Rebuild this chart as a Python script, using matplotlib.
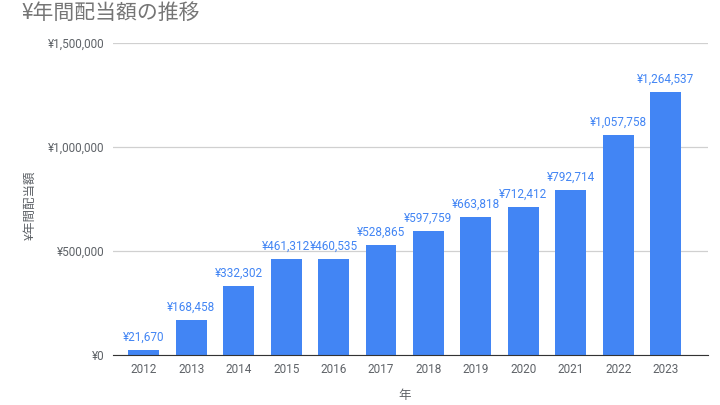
import matplotlib
matplotlib.use('Agg')
import matplotlib.pyplot as plt
from matplotlib.ticker import FuncFormatter

plt.rcParams['font.family'] = ['Noto Sans CJK JP', 'DejaVu Sans']

# データ
years = ['2012', '2013', '2014', '2015', '2016', '2017', '2018', '2019', '2020', '2021', '2022', '2023']
dividends = [21670, 168458, 332302, 461312, 460535, 528865, 597759, 663818, 712412, 792714, 1057758, 1264537]
y_ticks = [0, 500000, 1000000, 1500000]

azul = '#4285F4'
gris = '#5f6368'

fig = plt.figure(figsize=(7.2, 4.05), dpi=100)
ax = fig.add_axes([0.157, 0.1235, 0.826, 0.7705])

x = list(range(len(years)))
ax.bar(x, dividends, width=0.65, color=azul, zorder=3)

for xi, v in zip(x, dividends):
    ax.text(xi, v + 30000, '¥{:,}'.format(v), ha='center', va='bottom',
            color=azul, fontsize=8.5, family=['Roboto', 'DejaVu Sans'])

ax.set_xlim(-0.65, 11.89)
ax.set_ylim(0, 1500000)
ax.set_yticks(y_ticks)
ax.yaxis.set_major_formatter(FuncFormatter(lambda v, p: '¥{:,}'.format(int(v))))
ax.set_xticks(x)
ax.set_xticklabels(years)

for lbl in ax.get_xticklabels() + ax.get_yticklabels():
    lbl.set_family(['Roboto', 'DejaVu Sans'])
ax.tick_params(axis='both', length=0, colors=gris, labelsize=8.5)
ax.tick_params(axis='y', pad=6)
ax.tick_params(axis='x', pad=6)

ax.grid(axis='y', color='#d0d0d0', linewidth=0.9, zorder=0)
for s in ['top', 'right', 'left']:
    ax.spines[s].set_visible(False)
ax.spines['bottom'].set_color('#333333')
ax.spines['bottom'].set_zorder(4)

# ejes: etiquetas puestas a mano
fig.text(0.5625, 1 - 395 / 405, '年', color=gris, fontsize=9, ha='center', va='center')
fig.text(30 / 720, 1 - 205 / 405, '¥年間配当額', color=gris, fontsize=9,
         rotation=90, ha='center', va='center')

fig.text(0.03, 0.968, '¥年間配当額の推移', fontsize=15, color='#757575', va='center', ha='left')

fig.savefig('out.png', dpi=100)
